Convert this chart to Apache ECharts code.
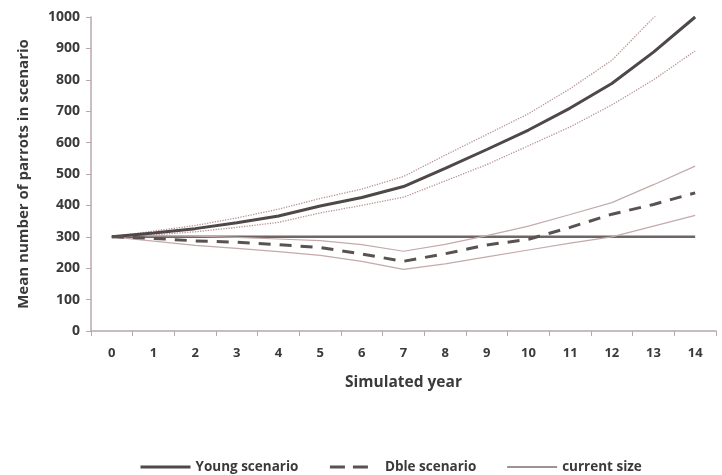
<!DOCTYPE html>
<html><head><meta charset="utf-8">
<script src="https://cdn.jsdelivr.net/npm/echarts@6/dist/echarts.min.js"></script>
<style>html,body{margin:0;padding:0;background:#fff}#c{width:722px;height:475px}</style>
</head><body><div id="c"></div>
<script>
const years = ['0','1','2','3','4','5','6','7','8','9','10','11','12','13','14'];
const youngMean  = [300,312,326,345,366,398,425,460,518,578,640,710,788,888,1000];
const youngUpper = [300,318,336,360,388,422,452,492,560,626,692,772,862,998,1120];
const youngLower = [300,306,316,330,346,376,400,426,478,530,590,650,720,800,892];
const dbleMean   = [300,295,287,283,275,266,245,222,246,274,292,330,372,403,440];
const dbleUpper  = [300,304,302,298,293,288,275,254,276,304,334,371,409,466,525];
const dbleLower  = [300,286,273,263,253,241,222,196,214,236,258,280,300,334,368];
const currentSize = [300,300,300,300,300,300,300,300,300,300,300,300,300,300,300];
const legendNames = ['Young scenario', 'Dble scenario', 'current size'];

const chart = echarts.init(document.getElementById('c'));
const txt = '#3a3a3a';
chart.setOption({
  backgroundColor: '#fff',
  animation: false,
  textStyle: {fontFamily: 'Open Sans, Liberation Sans, sans-serif'},
  grid: {left: 91, right: 6, top: 17, bottom: 144},
  legend: {
    left: 134, top: 455, itemWidth: 50, itemHeight: 14, itemGap: 30,
    textStyle: {color: txt, fontSize: 13.5, fontWeight: 'bold'},
    itemStyle: {opacity: 0},
    data: [
      {name: legendNames[0], lineStyle: {width: 3, color: '#4e4848'}},
      {name: legendNames[1], lineStyle: {width: 3, color: '#5a5252', type: [15, 8, 15, 100]}},
      {name: legendNames[2], lineStyle: {width: 1.6, color: '#7a7070'}}
    ]
  },
  xAxis: {
    type: 'category', data: years, boundaryGap: true,
    name: 'Simulated year', nameLocation: 'middle', nameGap: 44,
    nameTextStyle: {color: txt, fontSize: 15.5, fontWeight: 'bold'},
    axisLine: {lineStyle: {color: '#b8a8a8', width: 1.5}},
    axisTick: {show: true, length: 5, lineStyle: {color: '#b8a8a8'}},
    axisLabel: {color: txt, fontSize: 13, fontWeight: 'bold', margin: 16}
  },
  yAxis: {
    type: 'value', min: 0, max: 1000, interval: 100,
    name: 'Mean number of parrots in scenario', nameLocation: 'middle', nameGap: 60,
    nameTextStyle: {color: txt, fontSize: 15, fontWeight: 'bold'},
    axisLine: {show: true, lineStyle: {color: '#b8a8a8', width: 1.5}},
    axisTick: {show: true, length: 5, lineStyle: {color: '#b8a8a8'}},
    splitLine: {show: false},
    axisLabel: {color: txt, fontSize: 14, fontWeight: 'bold', margin: 11,
                formatter: v => String(v)}
  },
  series: [
    {name: 'current size', type: 'line', data: currentSize, symbol: 'none', z: 1,
     lineStyle: {color: '#6e6666', width: 2.5}, itemStyle: {color: '#6e6666'}},
    {name: 'Young upper', type: 'line', data: youngUpper, symbol: 'none', clip: true,
     lineStyle: {color: '#b89494', width: 1.3, type: 'dotted'}},
    {name: 'Young lower', type: 'line', data: youngLower, symbol: 'none',
     lineStyle: {color: '#b89494', width: 1.3, type: 'dotted'}},
    {name: 'Dble upper', type: 'line', data: dbleUpper, symbol: 'none',
     lineStyle: {color: '#c4aaaa', width: 1.2}},
    {name: 'Dble lower', type: 'line', data: dbleLower, symbol: 'none',
     lineStyle: {color: '#c4aaaa', width: 1.2}},
    {name: 'Young scenario', type: 'line', data: youngMean, symbol: 'none', z: 5,
     lineStyle: {color: '#4e4848', width: 3}, itemStyle: {color: '#4e4848'}},
    {name: 'Dble scenario', type: 'line', data: dbleMean, symbol: 'none', z: 5,
     lineStyle: {color: '#5a5252', width: 3, type: [12, 9]}, itemStyle: {color: '#5a5252'}}
  ]
});
</script></body></html>
